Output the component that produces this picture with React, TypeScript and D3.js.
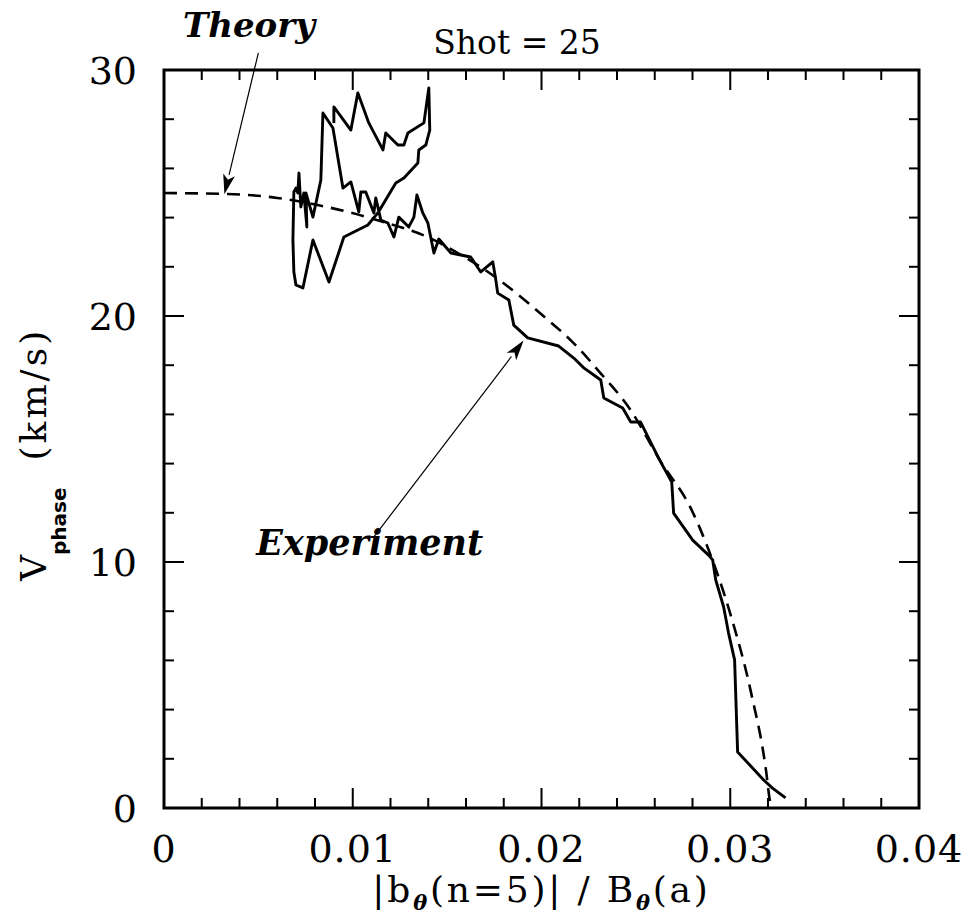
import { useEffect, useRef } from "react";
import * as d3 from "d3";

// theory curve (dashed)
const theoryPoints: [number, number][] = [
  [0, 25.0], [0.0033, 24.96], [0.006, 24.8], [0.0082, 24.5], [0.0099, 24.2],
  [0.0115, 23.85], [0.014, 23.2], [0.0157, 22.5], [0.0177, 21.5], [0.0201, 20.0],
  [0.0217, 18.9], [0.0231, 17.7], [0.0247, 16.2], [0.0263, 14.1], [0.0279, 12.2],
  [0.0288, 10.6], [0.03, 7.9], [0.0311, 4.7], [0.0319, 1.5], [0.0321, 0.3], [0.0322, 0],
];

// experiment trace (solid)
const experimentPoints: [number, number][] = [
  [0.009, 27.85], [0.009, 28.5], [0.0099, 27.56], [0.01027, 29.07], [0.01085, 27.85],
  [0.0116, 26.75], [0.01175, 27.44], [0.01239, 26.95], [0.01271, 26.95], [0.01292, 27.44],
  [0.01377, 27.85], [0.01403, 29.27], [0.01408, 27.56], [0.01387, 26.95], [0.0135, 26.75],
  [0.01345, 26.22], [0.01271, 25.61], [0.01228, 25.41], [0.01133, 24.19], [0.0108, 23.7],
  [0.00953, 23.21], [0.00874, 21.38], [0.00789, 23.09], [0.00736, 21.14], [0.00699, 21.26],
  [0.00688, 21.79], [0.00683, 23.09], [0.00688, 25.04], [0.00699, 25.2], [0.00709, 25.0],
  [0.00715, 25.81], [0.00725, 24.43], [0.00741, 25.0], [0.00757, 23.62], [0.00752, 25.0],
  [0.00789, 24.02], [0.00831, 25.53], [0.00842, 28.25], [0.00895, 27.64], [0.00948, 25.2],
  [0.0099, 25.45], [0.01032, 24.23], [0.01043, 25.04], [0.01069, 25.04], [0.01112, 24.19],
  [0.01122, 24.8], [0.01149, 23.9], [0.01186, 23.78], [0.01218, 23.21], [0.01244, 24.02],
  [0.01297, 23.62], [0.01324, 24.02], [0.0134, 24.92], [0.01371, 24.19], [0.01398, 23.78],
  [0.0143, 22.56], [0.01456, 23.13], [0.0152, 22.56], [0.01572, 22.48], [0.01625, 22.4],
  [0.01678, 21.79], [0.01742, 22.2], [0.01758, 21.46], [0.01768, 20.93], [0.01827, 20.65],
  [0.01853, 19.63], [0.01927, 19.11], [0.02091, 18.78], [0.02171, 18.29], [0.02224, 17.89],
  [0.02314, 17.4], [0.0233, 16.67], [0.0243, 16.26], [0.02473, 15.69], [0.02525, 15.69],
  [0.02594, 14.63], [0.02631, 14.07], [0.0269, 13.25], [0.027, 11.99], [0.02801, 10.89],
  [0.02885, 10.28], [0.02907, 10.08], [0.02923, 9.27], [0.02965, 8.17], [0.02991, 7.11],
  [0.03023, 6.02], [0.03039, 2.28], [0.03177, 1.14], [0.03224, 0.81], [0.03293, 0.41],
];

const xTicks = [0, 0.01, 0.02, 0.03, 0.04];
const xTickLabels = ["0", "0.01", "0.02", "0.03", "0.04"];
const yTicks = [0, 10, 20, 30];
const yTickLabels = ["0", "10", "20", "30"];

// annotations: label, text centre, arrow tail, arrow tip (data units)
const annotations = [
  { label: "Theory", size: 34, text: [0.0045, 31.35], tail: [0.0050, 30.7], tip: [0.0032, 24.95] },
  { label: "Experiment", size: 35, text: [0.0109, 10.3], tail: [0.0111, 11.0], tip: [0.01905, 19.0] },
];

const App = () => {
  const svgRef = useRef<SVGSVGElement>(null);
  const width = 969;
  const height = 917;

  useEffect(() => {
    const margin = { top: 70, right: 50, bottom: 109, left: 164 };
    const svg = d3.select(svgRef.current);
    svg.selectAll("*").remove();

    const x = d3.scaleLinear().domain([0, 0.04]).range([margin.left, width - margin.right]);
    const y = d3.scaleLinear().domain([0, 30]).range([height - margin.bottom, margin.top]);
    const [x0, x1] = x.range();
    const [y0, y1] = y.range();

    const serif = "'DejaVu Serif', serif";

    // ticks, inward on all four sides
    const ticks = svg.append("g").attr("stroke", "black").attr("stroke-width", 2);
    d3.range(0, 21).forEach((i) => {
      const v = i * 0.002;
      const len = i % 5 === 0 ? 20 : 10;
      ticks.append("line").attr("x1", x(v)).attr("x2", x(v)).attr("y1", y0).attr("y2", y0 - len);
      ticks.append("line").attr("x1", x(v)).attr("x2", x(v)).attr("y1", y1).attr("y2", y1 + len);
    });
    d3.range(0, 16).forEach((i) => {
      const v = i * 2;
      const len = i % 5 === 0 ? 20 : 10;
      ticks.append("line").attr("y1", y(v)).attr("y2", y(v)).attr("x1", x0).attr("x2", x0 + len);
      ticks.append("line").attr("y1", y(v)).attr("y2", y(v)).attr("x1", x1).attr("x2", x1 - len);
    });

    // frame
    svg.append("rect")
      .attr("x", x0).attr("y", y1)
      .attr("width", x1 - x0).attr("height", y0 - y1)
      .attr("fill", "none").attr("stroke", "black").attr("stroke-width", 3);

    // tick labels
    svg.append("g").selectAll("text").data(xTicks).join("text")
      .attr("x", (d) => x(d)).attr("y", y0 + 54)
      .attr("text-anchor", "middle")
      .attr("font-family", serif).attr("font-size", 38).attr("letter-spacing", 1)
      .text((d, i) => xTickLabels[i]);

    svg.append("g").selectAll("text").data(yTicks).join("text")
      .attr("x", x0 - 27).attr("y", (d) => y(d) + 14)
      .attr("text-anchor", "end")
      .attr("font-family", serif).attr("font-size", 38)
      .text((d, i) => yTickLabels[i]);

    // theory (dashed)
    const line = d3.line<[number, number]>().x((d) => x(d[0])).y((d) => y(d[1]));
    svg.append("path")
      .attr("d", line.curve(d3.curveMonotoneX)(theoryPoints))
      .attr("fill", "none").attr("stroke", "black")
      .attr("stroke-width", 2.6).attr("stroke-dasharray", "13,8");

    // experiment (solid)
    svg.append("path")
      .attr("d", line.curve(d3.curveLinear)(experimentPoints))
      .attr("fill", "none").attr("stroke", "black")
      .attr("stroke-width", 2.9).attr("stroke-linejoin", "round");

    // title
    svg.append("text")
      .attr("x", 517).attr("y", 54)
      .attr("text-anchor", "middle")
      .attr("font-family", serif).attr("font-size", 33)
      .text("Shot = 25");

    // annotations with arrows
    annotations.forEach((a) => {
      svg.append("text")
        .attr("x", x(a.text[0])).attr("y", y(a.text[1]))
        .attr("text-anchor", "middle")
        .attr("font-family", serif).attr("font-size", a.size)
        .attr("font-weight", "bold").attr("font-style", "italic")
        .text(a.label);
      const tx = x(a.tail[0]), ty = y(a.tail[1]);
      const hx = x(a.tip[0]), hy = y(a.tip[1]);
      const ang = Math.atan2(hy - ty, hx - tx);
      const headLen = 20, headW = 6;
      const bx = hx - headLen * Math.cos(ang), by = hy - headLen * Math.sin(ang);
      svg.append("line")
        .attr("x1", tx).attr("y1", ty).attr("x2", bx).attr("y2", by)
        .attr("stroke", "black").attr("stroke-width", 1.2);
      const px = -Math.sin(ang) * headW, py = Math.cos(ang) * headW;
      const nx = hx - (headLen - 5) * Math.cos(ang), ny = hy - (headLen - 5) * Math.sin(ang);
      svg.append("path")
        .attr("d", `M${hx},${hy}L${bx + px},${by + py}L${nx},${ny}L${bx - px},${by - py}Z`)
        .attr("fill", "black");
    });

    // x axis title
    const xt = svg.append("text")
      .attr("x", (x0 + x1) / 2).attr("y", 902)
      .attr("text-anchor", "middle")
      .attr("font-family", serif).attr("font-size", 36)
      .attr("letter-spacing", 2.8);
    xt.append("tspan").text("|b");
    xt.append("tspan").attr("dy", 8).attr("font-size", 21)
      .attr("font-weight", "bold").attr("font-style", "italic").text("θ");
    xt.append("tspan").attr("dy", -8).text("(n=5)| / B");
    xt.append("tspan").attr("dy", 8).attr("font-size", 21)
      .attr("font-weight", "bold").attr("font-style", "italic").text("θ");
    xt.append("tspan").attr("dy", -8).text("(a)");

    // y axis title
    const yt = svg.append("text")
      .attr("transform", `translate(46,581) rotate(-90)`)
      .attr("font-family", serif).attr("font-size", 36);
    yt.append("tspan").text("V");
    yt.append("tspan").attr("dy", 20).attr("font-size", 20)
      .attr("font-family", "'DejaVu Sans', sans-serif").attr("font-weight", "bold")
      .text("phase");
    yt.append("tspan").attr("dy", -20).attr("dx", 27).attr("letter-spacing", 3).text("(km/s)");
  }, [width, height]);

  return (
    <svg
      ref={svgRef}
      width={width}
      height={height}
      style={{ position: "absolute", left: 0, top: 0, background: "white" }}
    ></svg>
  );
};

export default App;
